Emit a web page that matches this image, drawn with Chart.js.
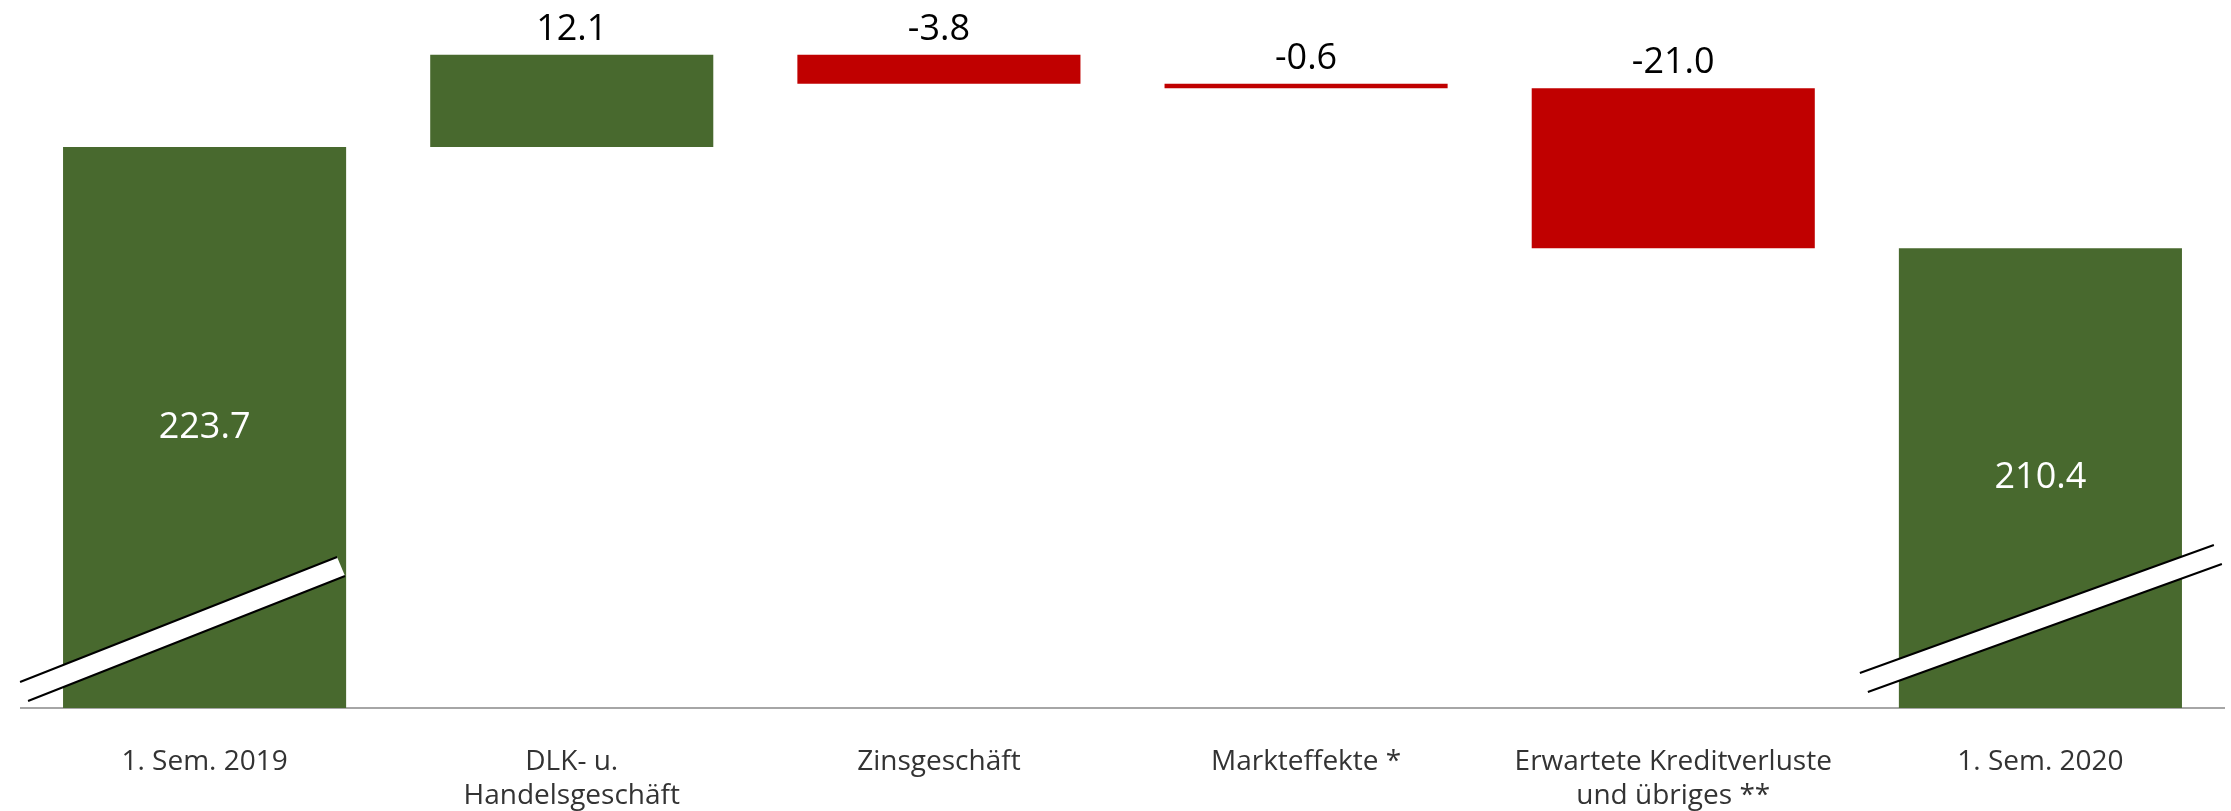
<!DOCTYPE html>
<html>
<head>
<meta charset="utf-8">
<script src="https://cdn.jsdelivr.net/npm/chart.js@4"></script>
<style>
  html, body { margin: 0; padding: 0; background: #fff; }
  #wrap { width: 2231px; height: 811px; }
</style>
</head>
<body>
<div id="wrap"><canvas id="myChart"></canvas></div>
<script>
// categories and values (Mio. EUR)
var labels = ['1. Sem. 2019', ['DLK- u.', 'Handelsgeschäft'], 'Zinsgeschäft', 'Markteffekte *', ['Erwartete Kreditverluste', 'und übriges **'], '1. Sem. 2020'];
var values = [223.7, 12.1, -3.8, -0.6, -21.0, 210.4];
var isTotal = [true, false, false, false, false, true];

// broken value axis
var axisMin = 150, axisMax = 243;

var green = '#48692e';
var red = '#c00000';

// waterfall: each step starts where the previous one ended
var ranges = [];
var running = 0;
values.forEach(function (v, i) {
    if (isTotal[i]) {
        ranges.push([axisMin, v]);
        running = v;
    } else {
        ranges.push([running, running + v]);
        running += v;
    }
});

var colors = values.map(function (v, i) {
    return (isTotal[i] || v >= 0) ? green : red;
});

Chart.defaults.font.family = "'Open Sans', sans-serif";

// shape of the break marks (offsets from bar left edge / axis line)
var breaks = {
    0: { start: -43, len: 317, lift: 26, rise: 125 },
    5: { start: -39, len: 354, lift: 35, rise: 128 }
};

// break marks on the total bars + value labels
var waterfallDecor = {
    id: 'waterfallDecor',
    afterDatasetsDraw: function (chart) {
        var ctx = chart.ctx;
        var meta = chart.getDatasetMeta(0);
        var bottom = chart.chartArea.bottom;

        ctx.save();
        meta.data.forEach(function (bar, i) {
            var b = breaks[i];
            if (!b) return;
            var left = bar.x - bar.width / 2;
            var x1 = left + b.start, x2 = x1 + b.len;
            var y1 = bottom - b.lift, y2 = y1 - b.rise;
            var dx = 8, dy = 19;
            ctx.fillStyle = '#fff';
            ctx.beginPath();
            ctx.moveTo(x1, y1);
            ctx.lineTo(x2, y2);
            ctx.lineTo(x2 + dx, y2 + dy);
            ctx.lineTo(x1 + dx, y1 + dy);
            ctx.closePath();
            ctx.fill();
            ctx.strokeStyle = '#000';
            ctx.lineWidth = 2;
            ctx.beginPath();
            ctx.moveTo(x1, y1);
            ctx.lineTo(x2, y2);
            ctx.moveTo(x1 + dx, y1 + dy);
            ctx.lineTo(x2 + dx, y2 + dy);
            ctx.stroke();
        });

        ctx.font = "36px 'Open Sans', sans-serif";
        ctx.textAlign = 'center';
        meta.data.forEach(function (bar, i) {
            var txt = values[i].toFixed(1);
            var top = Math.min(bar.y, bar.base);
            if (isTotal[i]) {
                ctx.fillStyle = '#fff';
                ctx.textBaseline = 'middle';
                ctx.fillText(txt, bar.x, (top + bottom) / 2);
            } else {
                ctx.fillStyle = '#000';
                ctx.textBaseline = 'alphabetic';
                ctx.fillText(txt, bar.x, top - 15);
            }
        });
        ctx.restore();
    }
};

var ctx = document.getElementById('myChart').getContext('2d');
var chart = new Chart(ctx, {
    type: 'bar',
    data: {
        labels: labels,
        datasets: [{
            data: ranges,
            backgroundColor: colors,
            borderWidth: 0,
            barPercentage: 0.771,
            categoryPercentage: 1
        }]
    },
    options: {
        responsive: true,
        maintainAspectRatio: false,
        animation: false,
        layout: { padding: { left: 21, right: 7, top: 0, bottom: 0 } },
        plugins: {
            legend: { display: false },
            tooltip: { enabled: false }
        },
        scales: {
            x: {
                grid: { display: false, drawTicks: false },
                border: { display: true, color: '#a6a6a6', width: 2 },
                ticks: {
                    color: '#333',
                    padding: 38,
                    font: { size: 28, lineHeight: 1.18 },
                    maxRotation: 0,
                    autoSkip: false
                },
                afterFit: function (scale) { scale.height = 103; }
            },
            y: {
                display: false,
                min: axisMin,
                max: axisMax
            }
        }
    },
    plugins: [waterfallDecor]
});
</script>
</body>
</html>
